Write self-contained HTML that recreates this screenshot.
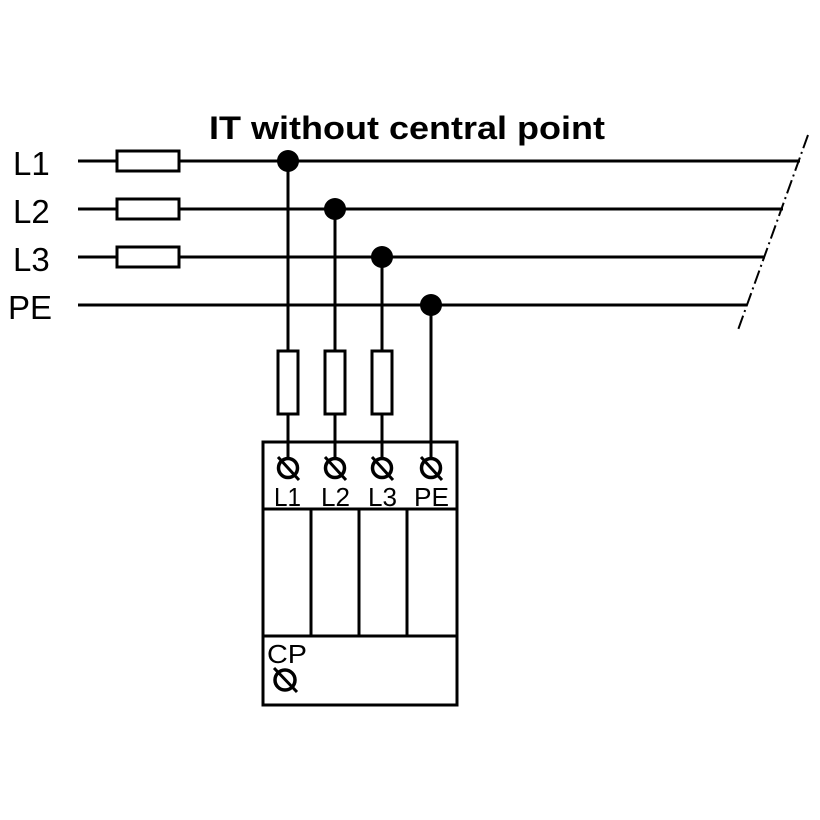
<!DOCTYPE html>
<html><head><style>html,body{margin:0;padding:0;background:#fff}svg{display:block}</style></head>
<body>
<svg width="820" height="820" viewBox="0 0 820 820" xmlns="http://www.w3.org/2000/svg" font-family="Liberation Sans, Arial, sans-serif">
<rect width="820" height="820" fill="#fff"/>
<text x="209" y="139" font-size="32" font-weight="bold" textLength="396" lengthAdjust="spacingAndGlyphs">IT without central point</text>
<g font-size="33">
<text x="13" y="175">L1</text>
<text x="13" y="223">L2</text>
<text x="13" y="271">L3</text>
<text x="8" y="319">PE</text>
</g>
<g stroke="#000" stroke-width="3" fill="none">
<line x1="78" y1="161" x2="800" y2="161"/>
<line x1="78" y1="209" x2="783" y2="209"/>
<line x1="78" y1="257" x2="765" y2="257"/>
<line x1="78" y1="305" x2="747" y2="305"/>
<line x1="808" y1="135" x2="738" y2="330" stroke-width="2" stroke-dasharray="14,4,2,4"/>
<rect x="117" y="151" width="62" height="20" fill="#fff"/>
<rect x="117" y="199" width="62" height="20" fill="#fff"/>
<rect x="117" y="247" width="62" height="20" fill="#fff"/>
<line x1="288" y1="161" x2="288" y2="468"/>
<line x1="335" y1="209" x2="335" y2="468"/>
<line x1="382" y1="257" x2="382" y2="468"/>
<line x1="431" y1="305" x2="431" y2="468"/>
<rect x="278" y="351" width="20" height="63" fill="#fff"/>
<rect x="325" y="351" width="20" height="63" fill="#fff"/>
<rect x="372" y="351" width="20" height="63" fill="#fff"/>
<rect x="263" y="442" width="194" height="263"/>
<line x1="263" y1="509" x2="457" y2="509"/>
<line x1="263" y1="636" x2="457" y2="636"/>
<line x1="311" y1="509" x2="311" y2="636"/>
<line x1="359" y1="509" x2="359" y2="636"/>
<line x1="407" y1="509" x2="407" y2="636"/>
<g fill="#fff" stroke-width="3.5">
<circle cx="288" cy="468" r="9.5"/><circle cx="335" cy="468" r="9.5"/><circle cx="382" cy="468" r="9.5"/><circle cx="431" cy="468" r="9.5"/><circle cx="285" cy="680" r="10"/>
</g>
<g stroke-width="3">
<line x1="278" y1="457" x2="299" y2="480"/>
<line x1="325" y1="457" x2="346" y2="480"/>
<line x1="372" y1="457" x2="393" y2="480"/>
<line x1="421" y1="457" x2="442" y2="480"/>
<line x1="274" y1="668" x2="297" y2="692"/>
</g>
</g>
<g fill="#000">
<circle cx="288" cy="161" r="11"/><circle cx="335" cy="209" r="11"/><circle cx="382" cy="257" r="11"/><circle cx="431" cy="305" r="11"/>
</g>
<g font-size="26">
<text x="274" y="506" textLength="27" lengthAdjust="spacingAndGlyphs">L1</text>
<text x="321" y="506" textLength="29" lengthAdjust="spacingAndGlyphs">L2</text>
<text x="368" y="506" textLength="29" lengthAdjust="spacingAndGlyphs">L3</text>
<text x="414" y="506" textLength="35" lengthAdjust="spacingAndGlyphs">PE</text>
<text x="267" y="663" textLength="40" lengthAdjust="spacingAndGlyphs">CP</text>
</g>
</svg>
</body></html>
